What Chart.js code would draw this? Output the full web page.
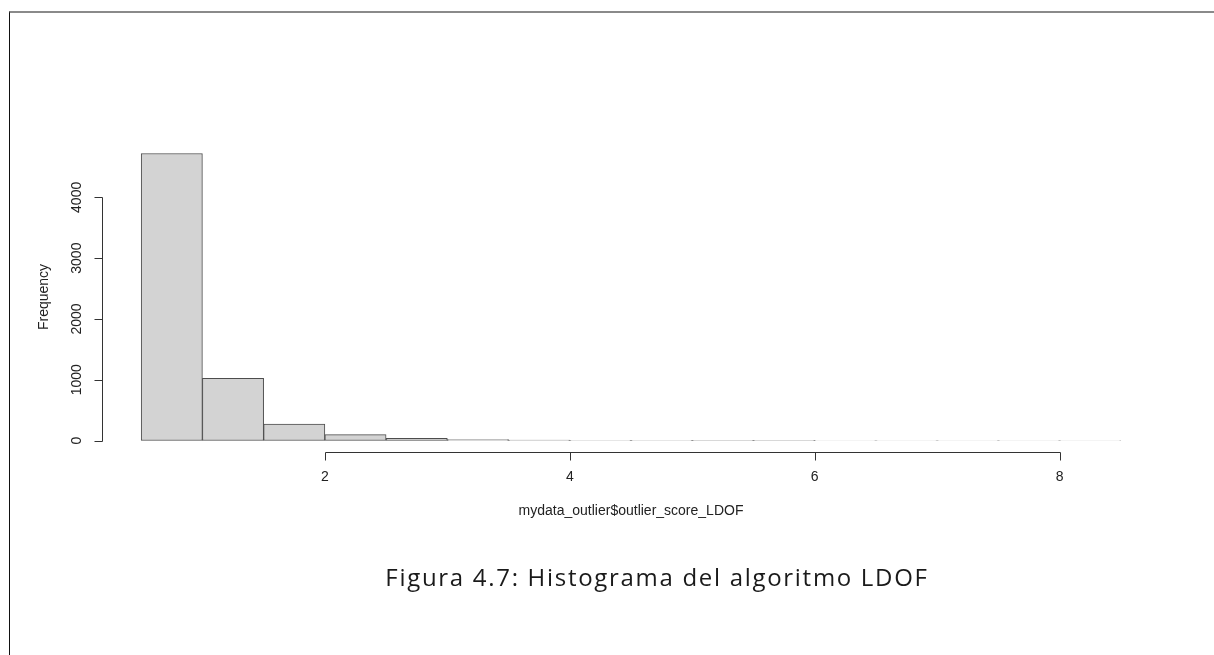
<!DOCTYPE html>
<html>
<head>
<meta charset="utf-8">
<script src="https://cdn.jsdelivr.net/npm/chart.js@4/dist/chart.umd.min.js"></script>
<style>
    html, body { margin: 0; padding: 0; background: #fff; }
    #page { position: relative; width: 1214px; height: 655px; overflow: hidden; }
    #frame {
        position: absolute; left: 9px; top: 11px; width: 1300px; height: 700px;
        border-top: 2px solid #8a8a8a; border-left: 1px solid #111;
    }
    #chart-box { position: absolute; left: 0; top: 0; width: 1214px; height: 655px; }
    #caption {
        position: absolute; left: 0; width: 1214px; top: 560px; text-align: center;
        font-family: "Open Sans", sans-serif; font-size: 24px; letter-spacing: 1.7px; color: #1a1a1a;
        padding-left: 100px; box-sizing: border-box;
    }
</style>
</head>
<body>
<div id="page">
    <div id="frame"></div>
    <div id="chart-box"><canvas id="hist-chart" width="1214" height="655"></canvas></div>
    <div id="caption">Figura 4.7: Histograma del algoritmo LDOF</div>
</div>
<script>
// histogram bins (break points) and counts
const binStarts = [0.5, 1.0, 1.5, 2.0, 2.5, 3.0, 3.5, 4.0, 4.5, 5.0, 5.5, 6.0, 6.5, 7.0, 7.5, 8.0];
const binWidth = 0.5;
const counts = [4722, 1022, 272, 98, 35, 15, 8, 5, 3, 2, 2, 1, 1, 1, 1, 1];
const xTicks = [2, 4, 6, 8];
const yTicks = [0, 1000, 2000, 3000, 4000];
const xTitle = 'mydata_outlier$outlier_score_LDOF';
const yTitle = 'Frequency';

const points = binStarts.map((s, i) => ({ x: s + binWidth / 2, y: counts[i] }));
const xLo = binStarts[0], xHi = binStarts[binStarts.length - 1] + binWidth;
const xPad = (xHi - xLo) * 0.04;
const yMax = Math.max(...counts);

// R style axes, drawn from the chart's own scales
const rAxes = {
    id: 'rAxes',
    afterDraw(chart) {
        const ctx = chart.ctx;
        const xs = chart.scales.x, ys = chart.scales.y;
        const area = chart.chartArea;
        ctx.save();
        ctx.strokeStyle = '#333';
        ctx.lineWidth = 1;
        ctx.fillStyle = '#222';
        ctx.font = '14px "Liberation Sans", Arial, sans-serif';

        // x axis
        const ay = Math.round(area.bottom) + 0.5;
        ctx.beginPath();
        ctx.moveTo(Math.round(xs.getPixelForValue(xTicks[0])) + 0.5, ay);
        ctx.lineTo(Math.round(xs.getPixelForValue(xTicks[xTicks.length - 1])) + 0.5, ay);
        xTicks.forEach(t => {
            const px = Math.round(xs.getPixelForValue(t)) + 0.5;
            ctx.moveTo(px, ay);
            ctx.lineTo(px, ay + 8);
        });
        ctx.stroke();
        ctx.textAlign = 'center';
        ctx.textBaseline = 'middle';
        xTicks.forEach(t => ctx.fillText(String(t), xs.getPixelForValue(t), ay + 25));
        ctx.fillText(xTitle, (area.left + area.right) / 2, ay + 59);

        // y axis
        const ax = Math.round(area.left) + 0.5;
        ctx.beginPath();
        ctx.moveTo(ax, Math.round(ys.getPixelForValue(yTicks[0])) + 0.5);
        ctx.lineTo(ax, Math.round(ys.getPixelForValue(yTicks[yTicks.length - 1])) + 0.5);
        yTicks.forEach(t => {
            const py = Math.round(ys.getPixelForValue(t)) + 0.5;
            ctx.moveTo(ax, py);
            ctx.lineTo(ax - 8, py);
        });
        ctx.stroke();
        yTicks.forEach(t => {
            ctx.save();
            ctx.translate(ax - 25, ys.getPixelForValue(t));
            ctx.rotate(-Math.PI / 2);
            ctx.fillText(String(t), 0, 0);
            ctx.restore();
        });
        ctx.save();
        ctx.translate(ax - 58, (area.top + area.bottom) / 2);
        ctx.rotate(-Math.PI / 2);
        ctx.fillText(yTitle, 0, 0);
        ctx.restore();
        ctx.restore();
    }
};

const ctx = document.getElementById('hist-chart').getContext('2d');
new Chart(ctx, {
    type: 'bar',
    data: {
        datasets: [{
            data: points,
            backgroundColor: '#d3d3d3',
            borderColor: '#4d4d4d',
            borderWidth: 1,
            borderSkipped: false,
            barPercentage: 1,
            categoryPercentage: 1
        }]
    },
    options: {
        responsive: false,
        animation: false,
        layout: { padding: { left: 102, right: 54, top: 142, bottom: 203 } },
        plugins: { legend: { display: false }, tooltip: { enabled: false } },
        scales: {
            x: { type: 'linear', offset: false, min: xLo - xPad, max: xHi + xPad, display: false },
            y: { min: -0.04 * yMax, max: 1.04 * yMax, display: false }
        }
    },
    plugins: [rAxes]
});
</script>
</body>
</html>
